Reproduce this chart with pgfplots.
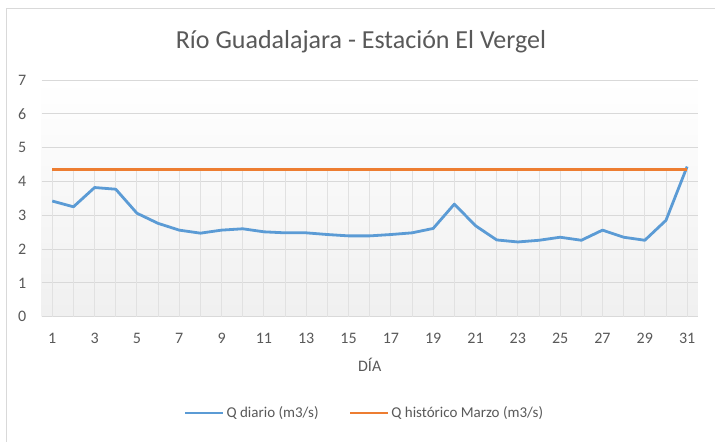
\documentclass[border=0pt]{standalone}
\usepackage{pgfplots}
\pgfplotsset{compat=1.18}
\usepackage{fontspec}
\setmainfont{Carlito}
\definecolor{qblue}{HTML}{5B9BD5}
\definecolor{qorange}{HTML}{ED7D31}
\definecolor{txtgray}{HTML}{595959}
\definecolor{gridgray}{HTML}{D9D9D9}
\definecolor{framegray}{HTML}{D9D9D9}

\pgfplotstableread{
dia q
1 3.42
2 3.25
3 3.82
4 3.77
5 3.06
6 2.76
7 2.56
8 2.47
9 2.56
10 2.60
11 2.51
12 2.48
13 2.48
14 2.43
15 2.39
16 2.39
17 2.43
18 2.48
19 2.61
20 3.33
21 2.69
22 2.27
23 2.21
24 2.26
25 2.35
26 2.26
27 2.56
28 2.35
29 2.26
30 2.85
31 4.44
}\diario

\pgfplotstableread{
dia q
1 4.36
31 4.36
}\historico

\begin{document}
\begin{tikzpicture}[x=1bp,y=1bp]
\path[use as bounding box, fill=white] (0,0) rectangle (715,442);
\draw[framegray, line width=1bp] (6,0) -- (6,433) -- (715,433);
\node[txtgray, font=\fontsize{26bp}{30bp}\selectfont] at (361,400) {Río Guadalajara - Estación El Vergel};
\coordinate (ll) at (41.7,125.3);
\begin{axis}[
    at={(ll)}, anchor=south west,
    scale only axis,
    width=656bp, height=236.7bp,
    xmin=0.5, xmax=31.5,
    ymin=0, ymax=7,
    xtick={1,3,...,31},
    ytick={0,...,7},
    axis line style={draw=none},
    major tick length=0pt,
    ymajorgrids,
    grid style={gridgray, line width=0.9bp},
    ticklabel style={txtgray, font=\fontsize{16bp}{19bp}\selectfont},
    /pgf/number format/assume math mode=true,
    xticklabel style={yshift=-13bp},
    yticklabel style={xshift=-12bp},
    xlabel={DÍA},
    xlabel style={txtgray, font=\fontsize{16bp}{19bp}\selectfont, yshift=-8bp},
    axis background/.style={top color=white, bottom color=black!6, middle color=white!97!black},
    legend columns=2,
    legend style={at={(0.492,-0.407)}, anchor=center, draw=none, fill=none,
        font=\fontsize{15bp}{18bp}\selectfont, text=txtgray,
        /tikz/every odd column/.append style={column sep=0bp},
        /tikz/every even column/.append style={column sep=28bp}},
    legend image code/.code={\draw[#1] (0bp,0bp) -- (38bp,0bp);},
]
\pgfplotsinvokeforeach{1,...,31}{
    \draw[gridgray!80, line width=0.9bp] (axis cs:#1,0) -- (axis cs:#1,4.36);
}
\addplot[qblue, line width=2.8bp, line join=round] table[x=dia, y=q] {\diario};
\addplot[qorange, line width=2.8bp] table[x=dia, y=q] {\historico};
\legend{Q diario (m3/s), Q histórico Marzo (m3/s)}
\end{axis}
\end{tikzpicture}
\end{document}
